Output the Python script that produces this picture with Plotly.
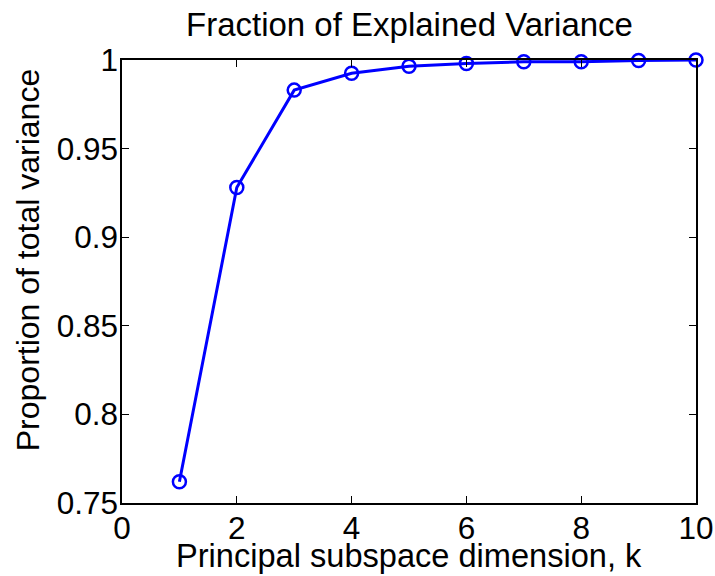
import plotly.graph_objects as go

k = [1, 2, 3, 4, 5, 6, 7, 8, 9, 10]
variance = [0.762, 0.928, 0.983, 0.9925, 0.9965, 0.998, 0.999, 0.999, 0.9997, 1.0]
x_ticks = [0, 2, 4, 6, 8, 10]
y_ticks = [0.75, 0.8, 0.85, 0.9, 0.95, 1.0]
y_tick_text = ["0.75", "0.8", "0.85", "0.9", "0.95", "1"]

title_text = "Fraction of Explained Variance"
x_label = "Principal subspace dimension, k"
y_label = "Proportion of total variance"

FONT = "Liberation Sans, Arial, Helvetica, sans-serif"

fig = go.Figure()
fig.add_trace(go.Scatter(
    x=k, y=variance, mode="lines+markers",
    line=dict(color="#0000FF", width=3),
    marker=dict(symbol="circle-open", size=13, color="#0000FF", line=dict(width=2.5, color="#0000FF")),
    cliponaxis=False, showlegend=False,
))

axis_common = dict(
    showgrid=False, zeroline=False, showline=True, linecolor="black", linewidth=1.5,
    mirror="ticks", ticks="inside", ticklen=7, tickwidth=1, tickcolor="black",
    tickfont=dict(family=FONT, size=31.5, color="black"), automargin=False,
    ticklabelstandoff=-4,
)

fig.update_layout(
    width=715, height=576,
    margin=dict(l=122, r=19, t=60, b=73),
    paper_bgcolor="white", plot_bgcolor="white",
    xaxis=dict(range=[0, 10], tickvals=x_ticks, ticktext=[str(v) for v in x_ticks], **axis_common),
    yaxis=dict(range=[0.75, 1.0], tickvals=y_ticks, ticktext=y_tick_text, **axis_common),
    annotations=[
        dict(text=title_text, xref="paper", yref="paper", x=0.5, y=1.0, yshift=36,
             xanchor="center", yanchor="middle", showarrow=False,
             font=dict(family=FONT, size=33, color="black")),
        dict(text=x_label, xref="paper", yref="paper", x=0.5, y=0, yshift=-52,
             xanchor="center", yanchor="middle", showarrow=False,
             font=dict(family=FONT, size=32.6, color="black")),
        dict(text=y_label, xref="paper", yref="paper", x=0, xshift=-94, y=0.548,
             xanchor="center", yanchor="middle", showarrow=False, textangle=-90,
             font=dict(family=FONT, size=32, color="black")),
    ],
)

fig.write_html(
    "out.html",
    config={"displayModeBar": False},
    post_script="document.documentElement.style.margin='0';document.body.style.margin='0';"
                "document.documentElement.style.overflow='hidden';document.body.style.overflow='hidden';",
)
